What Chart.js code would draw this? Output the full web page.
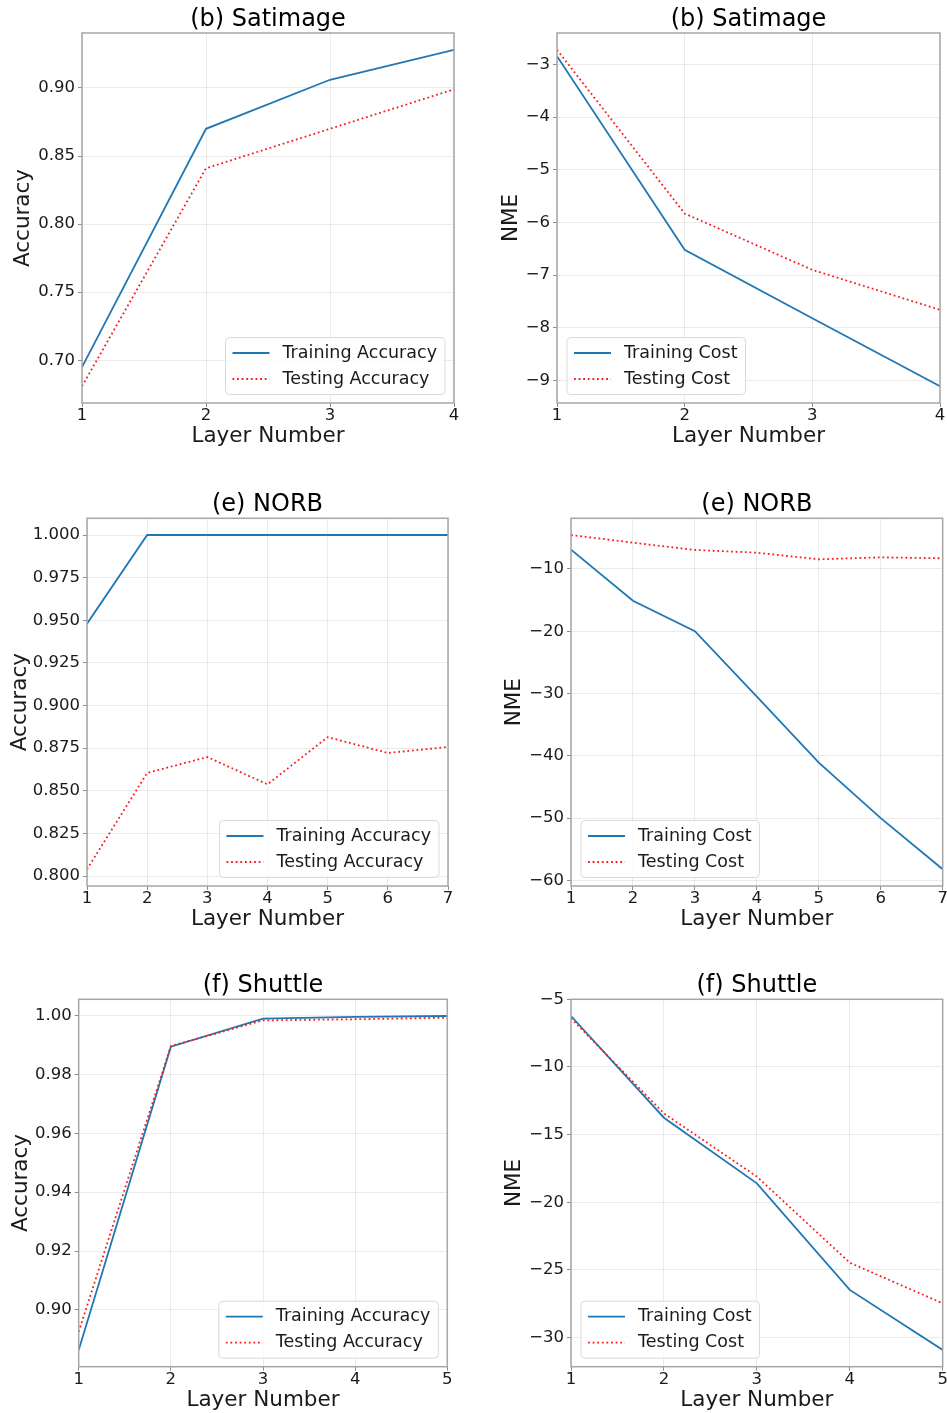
<!DOCTYPE html>
<html>
<head>
<meta charset="utf-8">
<script src="https://cdn.jsdelivr.net/npm/chart.js"></script>
<style>
  body { margin: 0; background: #fff; width: 947px; height: 1413px; position: relative; overflow: hidden; }
  canvas { position: absolute; }
</style>
</head>
<body>
<canvas id="satAcc" width="470" height="460" style="left:0;top:0"></canvas>
<canvas id="satCost" width="477" height="460" style="left:470px;top:0"></canvas>
<canvas id="norbAcc" width="470" height="460" style="left:0;top:480px"></canvas>
<canvas id="norbCost" width="477" height="460" style="left:470px;top:480px"></canvas>
<canvas id="shutAcc" width="470" height="453" style="left:0;top:960px"></canvas>
<canvas id="shutCost" width="477" height="453" style="left:470px;top:960px"></canvas>
<script>
// data
const satLayers = [1, 2, 3, 4];
const satTrainAcc = [0.695, 0.870, 0.906, 0.928];
const satTestAcc = [0.681, 0.841, 0.870, 0.899];
const satTrainCost = [-2.84, -6.52, -7.82, -9.11];
const satTestCost = [-2.72, -5.83, -6.90, -7.66];

const norbLayers = [1, 2, 3, 4, 5, 6, 7];
const norbTrainAcc = [0.948, 1.0, 1.0, 1.0, 1.0, 1.0, 1.0];
const norbTestAcc = [0.804, 0.8605, 0.8698, 0.8538, 0.8815, 0.8722, 0.8757];
const norbTrainCost = [-6.9, -15.1, -20.0, -30.5, -41.1, -50.0, -58.2];
const norbTestCost = [-4.56, -5.79, -6.96, -7.39, -8.46, -8.14, -8.30];

const shutLayers = [1, 2, 3, 4, 5];
const shutTrainAcc = [0.8864, 0.9894, 0.9989, 0.9995, 0.9998];
const shutTestAcc = [0.8926, 0.9896, 0.9983, 0.9987, 0.9992];
const shutTrainCost = [-6.23, -13.75, -18.6, -26.48, -30.92];
const shutTestCost = [-6.4, -13.43, -18.1, -24.47, -27.47];

const accNames = ['Training Accuracy', 'Testing Accuracy'];
const costNames = ['Training Cost', 'Testing Cost'];

const FONT = '"DejaVu Sans", sans-serif';
const TXT = '#1a1a1a';
const BLUE = '#1f77b4';
const RED = '#ff1a1a';

// draws the box round the axes and the legend inside it
const frameLegend = {
    id: 'frameLegend',
    afterDatasetsDraw(chart, args, opts) {
        const a = chart.chartArea;
        const ctx = chart.ctx;
        ctx.save();
        ctx.strokeStyle = '#a6a6a6';
        ctx.lineWidth = 1.5;
        ctx.strokeRect(a.left, a.top, a.right - a.left, a.bottom - a.top);

        ctx.font = '17.5px ' + FONT;
        const ds = chart.data.datasets;
        const textW = Math.max(...ds.map(d => ctx.measureText(d.label).width));
        const w = 7 + 37 + 13 + textW + 8;
        const h = 57;
        const x = opts.side === 'right' ? a.right - 9 - w : a.left + 10;
        const y = a.bottom - 8.5 - h;

        ctx.beginPath();
        ctx.roundRect(x, y, w, h, 4);
        ctx.fillStyle = 'rgba(255,255,255,0.8)';
        ctx.fill();
        ctx.strokeStyle = '#d9d9d9';
        ctx.lineWidth = 1;
        ctx.stroke();

        ds.forEach((d, i) => {
            const cy = y + 15.5 + i * 26;
            ctx.beginPath();
            ctx.strokeStyle = d.borderColor;
            ctx.lineWidth = d.borderWidth;
            ctx.setLineDash(d.borderDash || []);
            ctx.moveTo(x + 7, cy);
            ctx.lineTo(x + 44, cy);
            ctx.stroke();
            ctx.setLineDash([]);
            ctx.fillStyle = TXT;
            ctx.textBaseline = 'middle';
            ctx.textAlign = 'left';
            ctx.fillText(d.label, x + 57, cy);
        });
        ctx.restore();
    }
};

function makeChart(id, box, title, layers, train, test, names, yTitle, step, decimals, side) {
    const all = train.concat(test);
    const lo = Math.min(...all), hi = Math.max(...all);
    const pad = (hi - lo) * 0.05;
    const fmt = v => {
        const s = Math.abs(v).toFixed(decimals);
        return v < -1e-9 ? '\u2212' + s : s;
    };
    const pts = arr => arr.map((v, i) => ({ x: layers[i], y: v }));

    new Chart(document.getElementById(id), {
        type: 'line',
        data: {
            datasets: [
                { label: names[0], data: pts(train), borderColor: BLUE, borderWidth: 1.8, pointRadius: 0, tension: 0, order: 1 },
                { label: names[1], data: pts(test), borderColor: RED, borderWidth: 1.8, borderDash: [1.8, 2.8], pointRadius: 0, tension: 0, order: 0 }
            ]
        },
        options: {
            responsive: false,
            animation: false,
            events: [],
            layout: { padding: { left: 0, top: 0, bottom: 0, right: box.w - box.r } },
            plugins: {
                legend: { display: false },
                tooltip: { enabled: false },
                title: {
                    display: true,
                    text: title,
                    fullSize: false,
                    color: '#000',
                    font: { family: FONT, size: 24, weight: 'normal', lineHeight: 1 },
                    padding: { top: box.t - 25.3, bottom: 1.3 }
                },
                frameLegend: { side: side }
            },
            scales: {
                x: {
                    type: 'linear',
                    min: layers[0],
                    max: layers[layers.length - 1],
                    ticks: { stepSize: 1, autoSkip: false, maxRotation: 0, includeBounds: false, color: TXT, padding: 0.5,
                        font: { family: FONT, size: 16.5, lineHeight: 1 } },
                    grid: { color: 'rgba(0,0,0,0.08)', tickColor: '#8c8c8c', tickLength: 4 },
                    border: { display: false },
                    title: { display: true, text: 'Layer Number', color: TXT,
                        font: { family: FONT, size: 21.5, lineHeight: 1 },
                        padding: { top: 0, bottom: box.h - box.b - 44.35 } },
                    afterFit(s) { s.height = box.h - box.b; s.paddingLeft = 0; s.paddingRight = 0; }
                },
                y: {
                    min: lo - pad,
                    max: hi + pad,
                    ticks: { stepSize: step, includeBounds: false, color: TXT, padding: 3, callback: fmt,
                        font: { family: FONT, size: 16.5, lineHeight: 1 } },
                    grid: { color: 'rgba(0,0,0,0.08)', tickColor: '#8c8c8c', tickLength: 4 },
                    border: { display: false },
                    title: { display: true, text: yTitle, color: TXT,
                        font: { family: FONT, size: 21.5, lineHeight: 1 },
                        padding: { top: box.yt, bottom: 0 } },
                    afterFit(s) { s.width = box.l; s.paddingTop = 0; s.paddingBottom = 0; }
                }
            }
        },
        plugins: [frameLegend]
    });
}

makeChart('satAcc', { w: 470, h: 460, l: 82, t: 33, r: 454, b: 403, yt: 12.8 },
    '(b) Satimage', satLayers, satTrainAcc, satTestAcc, accNames, 'Accuracy', 0.05, 2, 'right');
makeChart('satCost', { w: 477, h: 460, l: 87, t: 33, r: 470, b: 403, yt: 30.2 },
    '(b) Satimage', satLayers, satTrainCost, satTestCost, costNames, 'NME', 1, 0, 'left');
makeChart('norbAcc', { w: 470, h: 460, l: 87, t: 38.3, r: 448, b: 406, yt: 9.5 },
    '(e) NORB', norbLayers, norbTrainAcc, norbTestAcc, accNames, 'Accuracy', 0.025, 3, 'right');
makeChart('norbCost', { w: 477, h: 460, l: 101, t: 38.3, r: 472.7, b: 406, yt: 33.5 },
    '(e) NORB', norbLayers, norbTrainCost, norbTestCost, costNames, 'NME', 10, 0, 'left');
makeChart('shutAcc', { w: 470, h: 453, l: 78.7, t: 39.3, r: 447.3, b: 406.7, yt: 11.1 },
    '(f) Shuttle', shutLayers, shutTrainAcc, shutTestAcc, accNames, 'Accuracy', 0.02, 2, 'right');
makeChart('shutCost', { w: 477, h: 453, l: 101, t: 39.3, r: 472.7, b: 406.7, yt: 33.5 },
    '(f) Shuttle', shutLayers, shutTrainCost, shutTestCost, costNames, 'NME', 5, 0, 'left');
</script>
</body>
</html>
